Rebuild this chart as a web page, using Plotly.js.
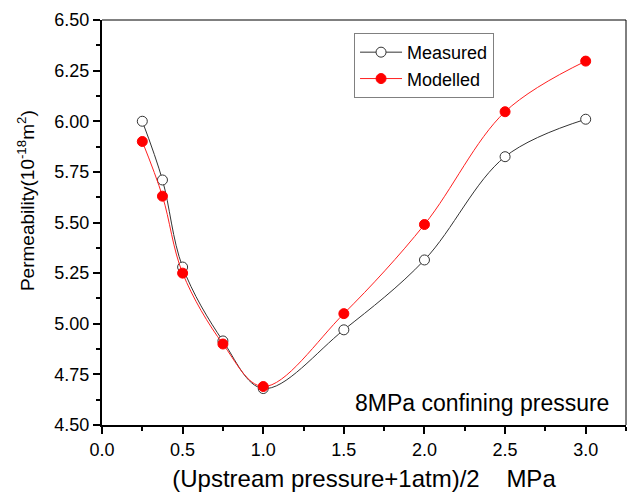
<!DOCTYPE html>
<html>
<head>
<meta charset="utf-8">
<script src="https://cdn.plot.ly/plotly-3.0.1.min.js"></script>
<style>html,body{margin:0;padding:0;background:#fff;}#chart{width:628px;height:492px;}</style>
</head>
<body>
<div id="chart"></div>
<script>
const pressure = [0.25, 0.375, 0.5, 0.75, 1.0, 1.5, 2.0, 2.5, 3.0];
const measured = [6.00, 5.71, 5.28, 4.915, 4.68, 4.97, 5.315, 5.825, 6.01];
const modelled = [5.90, 5.63, 5.25, 4.90, 4.69, 5.05, 5.49, 6.047, 6.297];
const yTickVals = [4.50, 4.75, 5.00, 5.25, 5.50, 5.75, 6.00, 6.25, 6.50];

const font = 'Liberation Sans, Arial, sans-serif';

const traces = [
  {
    x: pressure, y: measured, name: 'Measured', type: 'scatter', mode: 'lines+markers',
    line: {shape: 'spline', smoothing: 1, color: '#333333', width: 1},
    marker: {symbol: 'circle', size: 10, color: '#ffffff', line: {color: '#333333', width: 1}}
  },
  {
    x: pressure, y: modelled, name: 'Modelled', type: 'scatter', mode: 'lines+markers',
    line: {shape: 'spline', smoothing: 1, color: '#ff2020', width: 1},
    marker: {symbol: 'circle', size: 10, color: '#ff0000', line: {color: '#ff0000', width: 1}}
  }
];

const layout = {
  width: 628, height: 492,
  margin: {l: 102, r: 2, t: 20, b: 67},
  paper_bgcolor: '#fff', plot_bgcolor: '#fff',
  font: {family: font, size: 18, color: '#000'},
  showlegend: true,
  legend: {
    x: 0.481, y: 0.968, xanchor: 'left', yanchor: 'top',
    bgcolor: '#fff', bordercolor: '#808080', borderwidth: 1,
    font: {family: font, size: 18, color: '#000'},
    tracegroupgap: 0, itemwidth: 42
  },
  xaxis: {
    range: [0, 3.25], dtick: 0.5, tick0: 0, tickformat: '.1f',
    showgrid: false, zeroline: false,
    showline: true, linecolor: '#000', linewidth: 2,
    ticks: 'outside', ticklen: 7, tickwidth: 2, tickcolor: '#000',
    minor: {dtick: 0.25, ticks: 'outside', ticklen: 4, tickwidth: 2, tickcolor: '#000', showgrid: false},
    tickfont: {family: font, size: 18},
    title: {text: '(Upstream pressure+1atm)/2&nbsp;&nbsp;&nbsp;&nbsp;MPa', font: {family: font, size: 24}, standoff: 12}
  },
  yaxis: {
    range: [4.5, 6.5], tickvals: yTickVals, tickformat: '.2f',
    showgrid: false, zeroline: false,
    showline: true, linecolor: '#000', linewidth: 2,
    ticks: 'outside', ticklen: 7, tickwidth: 2, tickcolor: '#000',
    minor: {dtick: 0.125, ticks: 'outside', ticklen: 4, tickwidth: 2, tickcolor: '#000', showgrid: false},
    tickfont: {family: font, size: 18}
  },
  shapes: [
    {type: 'line', xref: 'paper', yref: 'paper', x0: 0, x1: 1, y0: 1, y1: 1, line: {color: '#000', width: 1}},
    {type: 'line', xref: 'paper', yref: 'paper', x0: 1, x1: 1, y0: 0, y1: 1, line: {color: '#000', width: 1}}
  ],
  annotations: [
    {text: '8MPa confining pressure', xref: 'paper', yref: 'paper', x: 0.972, y: 0.055,
     xanchor: 'right', yanchor: 'middle', showarrow: false, font: {family: font, size: 23, color: '#000'}},
    {text: 'Permeability(10<sup>-18</sup>m<sup>2</sup>)', xref: 'paper', yref: 'paper', x: -0.145, y: 0.553,
     xanchor: 'center', yanchor: 'middle', textangle: -90, showarrow: false, font: {family: font, size: 19, color: '#000'}}
  ]
};

Plotly.newPlot('chart', traces, layout, {displayModeBar: false, staticPlot: true});
</script>
</body>
</html>
